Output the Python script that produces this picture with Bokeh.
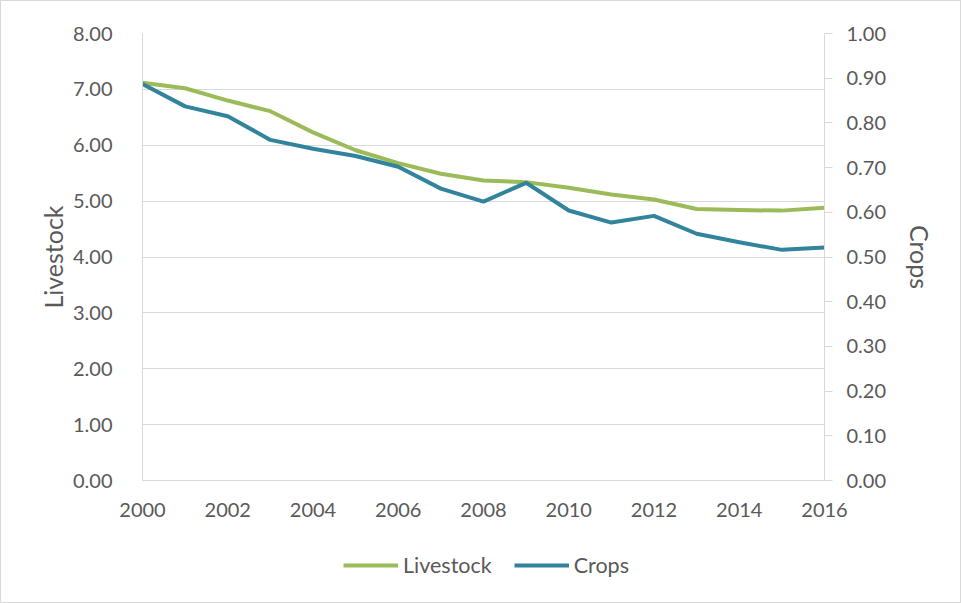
from bokeh.plotting import figure
from bokeh.layouts import column
from bokeh.models import (LinearAxis, Range1d, FixedTicker, NumeralTickFormatter,
                          Legend, LegendItem)
from bokeh.embed import file_html
from bokeh.resources import INLINE

# Yearly series
years = list(range(2000, 2017))
livestock = [7.12, 7.02, 6.80, 6.61, 6.23, 5.91, 5.68, 5.49, 5.37, 5.34,
             5.24, 5.12, 5.03, 4.86, 4.84, 4.83, 4.88]
crops = [0.887, 0.837, 0.815, 0.762, 0.742, 0.726, 0.702, 0.653, 0.624, 0.666,
         0.604, 0.577, 0.592, 0.552, 0.533, 0.516, 0.521]

left_ticks = [0, 1, 2, 3, 4, 5, 6, 7, 8]
right_ticks = [0.0, 0.1, 0.2, 0.3, 0.4, 0.5, 0.6, 0.7, 0.8, 0.9, 1.0]
year_ticks = [2000, 2002, 2004, 2006, 2008, 2010, 2012, 2014, 2016]

GREEN = "#9BBB59"
TEAL = "#31849B"
GRID = "#D9D9D9"
TEXT = "#595959"
FONT = "Lato"

p = figure(width=959, height=549, output_backend="svg", toolbar_location=None,
           x_range=Range1d(2000, 2016), y_range=Range1d(0, 8),
           min_border_left=141, min_border_right=136,
           min_border_top=32, min_border_bottom=70)
p.outline_line_color = None
p.background_fill_color = "white"
p.border_fill_color = "white"

p.extra_y_ranges = {"crops": Range1d(0, 1)}

# grid
p.xgrid.visible = False
p.ygrid.ticker = FixedTicker(ticks=left_ticks)
p.ygrid.grid_line_color = GRID
p.ygrid.grid_line_width = 1

# left axis
ya = p.yaxis[0]
ya.ticker = FixedTicker(ticks=left_ticks)
ya.formatter = NumeralTickFormatter(format="0.00")
ya.axis_label = "Livestock"
ya.axis_line_color = GRID
ya.major_tick_line_color = None
ya.minor_tick_line_color = None
ya.major_label_standoff = 24
ya.axis_label_standoff = 2

# bottom axis
xa = p.xaxis[0]
xa.ticker = FixedTicker(ticks=year_ticks)
xa.axis_line_color = GRID
xa.major_tick_line_color = None
xa.minor_tick_line_color = None
xa.major_label_standoff = 16

# right axis
ra = LinearAxis(y_range_name="crops", axis_label="Crops")
ra.ticker = FixedTicker(ticks=right_ticks)
ra.formatter = NumeralTickFormatter(format="0.00")
ra.axis_line_color = GRID
ra.major_tick_line_color = GRID
ra.major_tick_in = 0
ra.major_tick_out = 8
ra.minor_tick_line_color = None
ra.major_label_standoff = 14
ra.axis_label_standoff = 16
p.add_layout(ra, "right")

for ax in (ya, xa, ra):
    ax.major_label_text_font = FONT
    ax.major_label_text_font_size = "20px"
    ax.major_label_text_color = TEXT
    ax.axis_label_text_font = FONT
    ax.axis_label_text_font_size = "25px"
    ax.axis_label_text_font_style = "normal"
    ax.axis_label_text_color = TEXT

p.line(years, livestock, line_color=GREEN, line_width=4, line_join="round")
p.line(years, crops, line_color=TEAL, line_width=4, line_join="round",
       y_range_name="crops")

# legend strip under the chart; its ranges keep the series out of view so
# only the legend entries show
q = figure(width=959, height=52, output_backend="svg", toolbar_location=None,
           x_range=Range1d(2000, 2016), y_range=Range1d(100, 101),
           min_border=0, min_border_left=0, min_border_right=0,
           min_border_top=0, min_border_bottom=0)
q.axis.visible = False
q.grid.visible = False
q.outline_line_color = None
q.border_fill_color = "white"
k1 = q.line(years, livestock, line_color=GREEN, line_width=4)
k2 = q.line(years, crops, line_color=TEAL, line_width=4)

legend = Legend(items=[LegendItem(label="Livestock", renderers=[k1]),
                       LegendItem(label="Crops", renderers=[k2])],
                orientation="horizontal", location=(201, 24),
                label_text_font=FONT, label_text_font_size="21.5px",
                label_text_color=TEXT, glyph_width=55, glyph_height=20,
                label_standoff=5, spacing=22, padding=0, margin=0,
                border_line_color=None, background_fill_alpha=0)
q.add_layout(legend)

layout = column(p, q, spacing=0, styles={"border": "1px solid #D9D9D9"})

open("out.html", "w").write(file_html(layout, INLINE))
